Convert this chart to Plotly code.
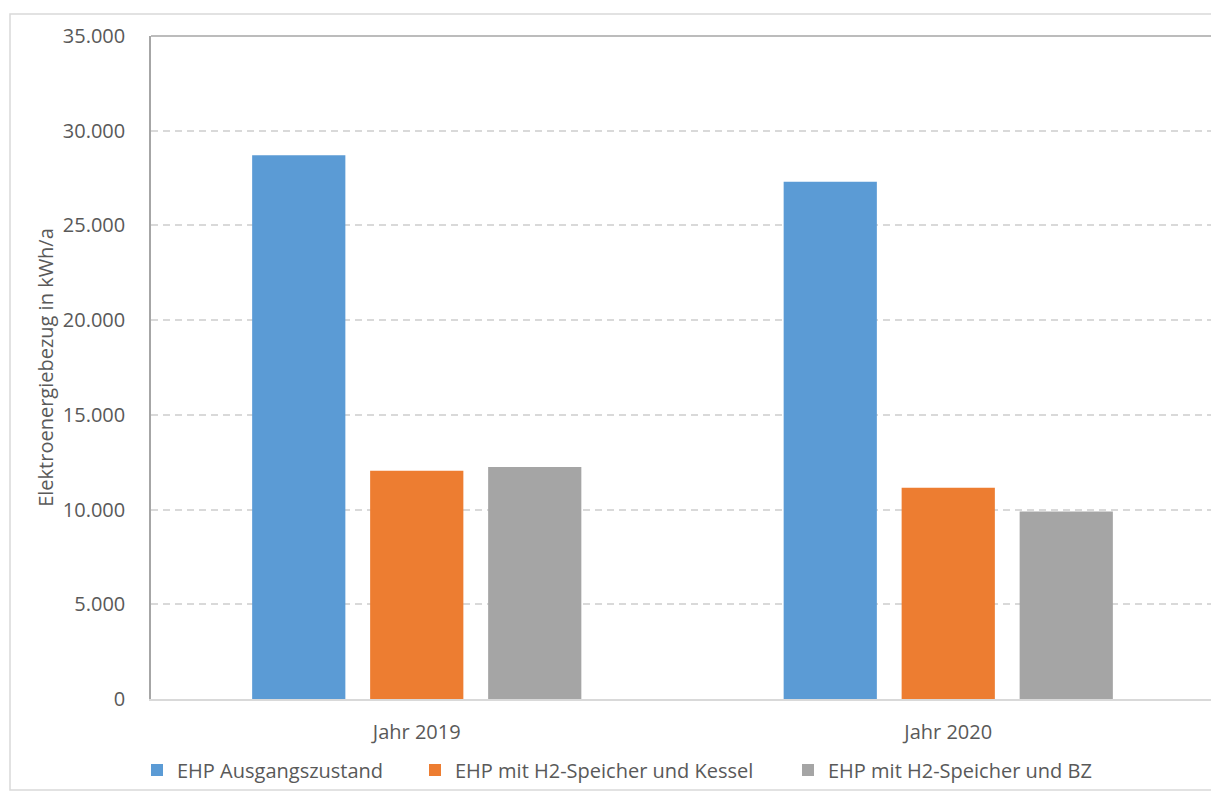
import plotly.graph_objects as go

categories = ["Jahr 2019", "Jahr 2020"]
series_names = [
    "EHP Ausgangszustand",
    "EHP mit H2-Speicher und Kessel",
    "EHP mit H2-Speicher und BZ",
]
ausgangszustand = [28700, 27300]
kessel = [12050, 11150]
bz = [12250, 9900]
colors = ["#5B9BD5", "#ED7D31", "#A5A5A5"]
y_ticks = [0, 5000, 10000, 15000, 20000, 25000, 30000, 35000]
y_tick_labels = ["0", "5.000", "10.000", "15.000", "20.000", "25.000", "30.000", "35.000"]

# page body has an 8px margin: work in screen pixels and shift
OFF = 8
W, H = 1219 - OFF, 794 - OFF
L, T = 151 - OFF, 36 - OFF
pw, ph = 1063, 663
R = W - L - pw
B = H - T - ph

def px_x(p):
    return (p - OFF - L) / pw

def px_y(p):
    return (T + ph - (p - OFF)) / ph

FONT = "Open Sans"
TXT = "#595959"

fig = go.Figure()
legend_ids = ["legend", "legend2", "legend3"]
for name, vals, col, lg in zip(series_names, [ausgangszustand, kessel, bz], colors, legend_ids):
    fig.add_trace(go.Bar(x=categories, y=vals, name=name, marker=dict(color=col, line=dict(width=0)),
                         legend=lg))

legend_text_start = [177, 455, 828]
leg_common = dict(orientation="h", yanchor="middle", xanchor="left", y=px_y(770),
                  bgcolor="rgba(0,0,0,0)", borderwidth=0, itemwidth=30,
                  font=dict(family=FONT, size=20, color=TXT))

fig.update_layout(
    width=W, height=H,
    margin=dict(l=L, r=R, t=T, b=B),
    paper_bgcolor="white", plot_bgcolor="white",
    barmode="group", bargap=0.334, bargroupgap=0.21,
    font=dict(family=FONT, size=20, color=TXT),
    showlegend=True,
    legend=dict(x=px_x(legend_text_start[0] - 40), **leg_common),
    legend2=dict(x=px_x(legend_text_start[1] - 40), **leg_common),
    legend3=dict(x=px_x(legend_text_start[2] - 40), **leg_common),
    xaxis=dict(showline=True, linecolor="#D9D9D9", linewidth=1.5, mirror=False,
               showgrid=False, ticks="", ticklabelstandoff=14, automargin=False,
               tickfont=dict(family=FONT, size=20, color=TXT)),
    yaxis=dict(range=[0, 35000], tickvals=y_ticks, ticktext=y_tick_labels,
               showline=True, linecolor="#A6A6A6", linewidth=1.5, mirror=True,
               showgrid=True, gridcolor="#D9D9D9", griddash="7px,5px", gridwidth=1.5,
               zeroline=False, ticks="", ticklabelstandoff=20, automargin=False,
               tickfont=dict(family=FONT, size=20, color=TXT),
               title=dict(text="Elektroenergiebezug in kWh/a", standoff=4,
                          font=dict(family=FONT, size=20, color=TXT))),
    shapes=[
        dict(type="line", xref="paper", yref="paper", x0=0, x1=1, y0=1, y1=1,
             line=dict(color="#A6A6A6", width=1.5)),
        dict(type="rect", xref="paper", yref="paper",
             x0=px_x(10), x1=px_x(1218), y0=px_y(790), y1=px_y(14),
             line=dict(color="#D9D9D9", width=1.5), layer="below"),
    ],
)

fig.write_html("out.html")
